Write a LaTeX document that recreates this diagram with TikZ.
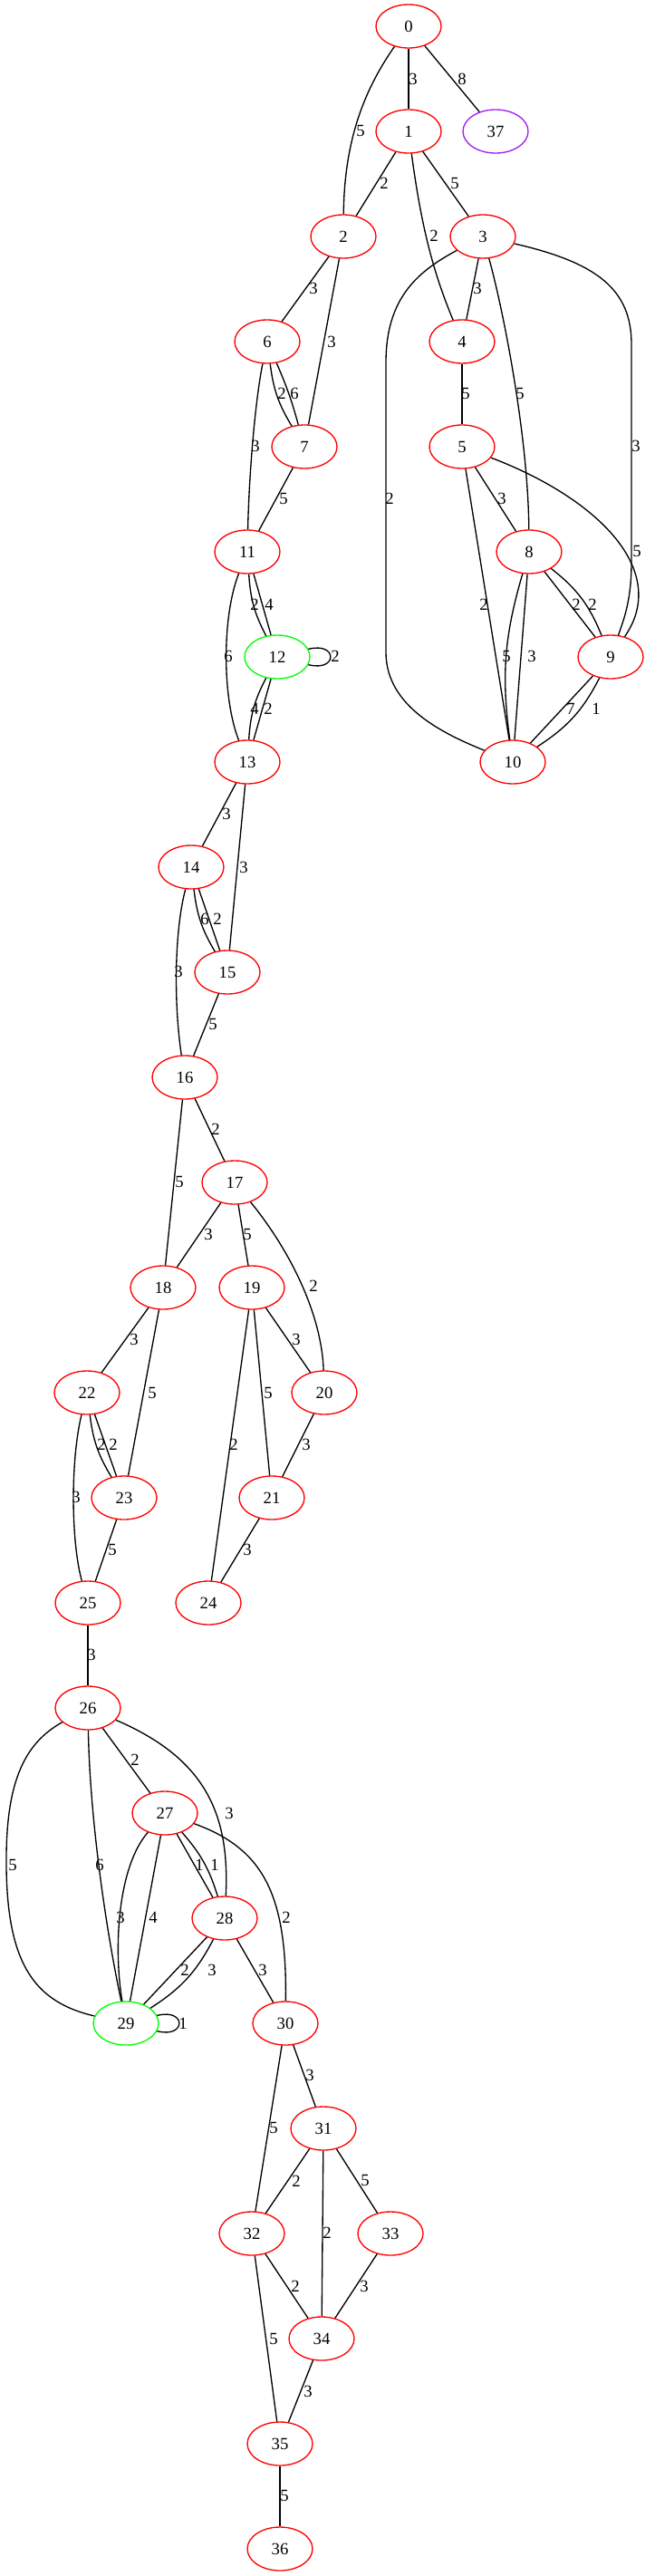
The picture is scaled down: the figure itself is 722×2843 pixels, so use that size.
\documentclass[tikz,border=0pt]{standalone}
\usepackage{fontspec}
\setmainfont{Liberation Serif}
\usetikzlibrary{shapes.geometric}
\definecolor{gvred}{RGB}{255,0,0}
\definecolor{gvgreen}{RGB}{0,255,0}
\definecolor{gvpurple}{RGB}{160,32,240}
\begin{document}
\begin{tikzpicture}[x=0.75pt,y=-0.75pt,
  v/.style={ellipse,draw=gvred,line width=1pt,minimum width=54pt,minimum height=36pt,inner sep=0pt,font=\fontsize{14}{16}\selectfont},
  lbl/.style={font=\fontsize{14}{16}\selectfont,inner sep=0pt},
  e/.style={line width=1pt}]
\useasboundingbox (0,0) rectangle (722,2843);
% nodes
\node[v] (n0) at (451,29) {0};
\node[v] (n1) at (451,145) {1};
\node[v,draw=gvpurple] (n37) at (547,145) {37};
\node[v] (n2) at (379,261) {2};
\node[v] (n3) at (533,261) {3};
\node[v] (n6) at (295,377) {6};
\node[v] (n4) at (510,377) {4};
\node[v] (n7) at (336,493) {7};
\node[v] (n5) at (510,493) {5};
\node[v] (n11) at (273,609) {11};
\node[v] (n8) at (584,609) {8};
\node[v,draw=gvgreen] (n12) at (306,725) {12};
\node[v] (n9) at (674,725) {9};
\node[v] (n13) at (273,841) {13};
\node[v] (n10) at (566,841) {10};
\node[v] (n14) at (211,957) {14};
\node[v] (n15) at (251,1073) {15};
\node[v] (n16) at (204,1189) {16};
\node[v] (n17) at (259,1305) {17};
\node[v] (n18) at (180,1421) {18};
\node[v] (n19) at (278,1421) {19};
\node[v] (n22) at (96,1537) {22};
\node[v] (n20) at (358,1537) {20};
\node[v] (n23) at (137,1653) {23};
\node[v] (n21) at (300,1653) {21};
\node[v] (n25) at (97,1769) {25};
\node[v] (n24) at (230,1769) {24};
\node[v] (n26) at (97,1885) {26};
\node[v] (n27) at (182,2001) {27};
\node[v] (n28) at (248,2117) {28};
\node[v,draw=gvgreen] (n29) at (139,2233) {29};
\node[v] (n30) at (315,2233) {30};
\node[v] (n31) at (357,2349) {31};
\node[v] (n32) at (278,2465) {32};
\node[v] (n33) at (431,2465) {33};
\node[v] (n34) at (355,2581) {34};
\node[v] (n35) at (309,2697) {35};
\node[v] (n36) at (309,2813) {36};
% edges
\draw[e] (n0) -- (n1);
\draw[e] (n0) -- (n37);
\draw[e] (n0) .. controls (405,95) and (380,150) .. (n2);
\draw[e] (n1) -- (n2);
\draw[e] (n1) -- (n3);
\draw[e] (n1) .. controls (465,250) and (478,300) .. (n4);
\draw[e] (n2) -- (n6);
\draw[e] (n2) -- (n7);
\draw[e] (n3) -- (n4);
\draw[e] (n3) .. controls (555,340) and (583,480) .. (n8);
\draw[e] (n3) .. controls (660,290) and (697,320) .. (697,380) -- (697,620) .. controls (697,660) and (690,680) .. (n9);
\draw[e] (n3) .. controls (460,300) and (426,330) .. (426,400) -- (426,720) .. controls (426,780) and (490,810) .. (n10);
\draw[e] (n4) -- (n5);
\draw[e] (n6) to[bend right=12] (n7);
\draw[e] (n6) to[bend left=4] (n7);
\draw[e] (n6) .. controls (282,440) and (275,520) .. (n11);
\draw[e] (n7) -- (n11);
\draw[e] (n5) -- (n8);
\draw[e] (n5) -- (n10);
\draw[e] (n5) .. controls (660,550) and (740,630) .. (n9);
\draw[e] (n8) -- (n9);
\draw[e] (n8) to[bend left=15] (n9);
\draw[e] (n8) to[bend right=12] (n10);
\draw[e] (n8) -- (n10);
\draw[e] (n9) -- (n10);
\draw[e] (n9) to[bend left=15] (n10);
\draw[e] (n11) to[bend right=12] (n12);
\draw[e] (n11) -- (n12);
\draw[e] (n11) .. controls (245,680) and (245,770) .. (n13);
\draw[e] (n12.14) .. controls (373,708) and (373,742) .. (n12.-14);
\draw[e] (n12) to[bend right=12] (n13);
\draw[e] (n12) -- (n13);
\draw[e] (n13) -- (n14);
\draw[e] (n13) -- (n15);
\draw[e] (n14) to[bend right=12] (n15);
\draw[e] (n14) -- (n15);
\draw[e] (n14) .. controls (192,1030) and (192,1110) .. (n16);
\draw[e] (n15) -- (n16);
\draw[e] (n16) -- (n17);
\draw[e] (n16) -- (n18);
\draw[e] (n17) -- (n18);
\draw[e] (n17) -- (n19);
\draw[e] (n17) .. controls (320,1380) and (355,1450) .. (n20);
\draw[e] (n18) -- (n22);
\draw[e] (n18) -- (n23);
\draw[e] (n19) -- (n20);
\draw[e] (n19) -- (n21);
\draw[e] (n19) -- (n24);
\draw[e] (n22) to[bend right=12] (n23);
\draw[e] (n22) -- (n23);
\draw[e] (n22) .. controls (78,1610) and (78,1700) .. (n25);
\draw[e] (n20) -- (n21);
\draw[e] (n23) -- (n25);
\draw[e] (n21) -- (n24);
\draw[e] (n25) -- (n26);
\draw[e] (n26) -- (n27);
\draw[e] (n26) .. controls (225,1940) and (254,2000) .. (n28);
\draw[e] (n26) .. controls (99,2000) and (115,2120) .. (n29);
\draw[e] (n26) .. controls (25,1925) and (6,1970) .. (7,2060) .. controls (8,2170) and (40,2210) .. (n29);
\draw[e] (n27) -- (n28);
\draw[e] (n27) to[bend left=12] (n28);
\draw[e] (n27) .. controls (130,2060) and (125,2150) .. (n29);
\draw[e] (n27) -- (n29);
\draw[e] (n27) .. controls (290,2040) and (317,2090) .. (n30);
\draw[e] (n28) -- (n29);
\draw[e] (n28) to[bend left=15] (n29);
\draw[e] (n28) -- (n30);
\draw[e] (n29.14) .. controls (206,2216) and (206,2250) .. (n29.-14);
\draw[e] (n30) -- (n31);
\draw[e] (n30) -- (n32);
\draw[e] (n31) -- (n32);
\draw[e] (n31) -- (n33);
\draw[e] (n31) -- (n34);
\draw[e] (n32) -- (n34);
\draw[e] (n33) -- (n34);
\draw[e] (n32) -- (n35);
\draw[e] (n34) -- (n35);
\draw[e] (n35) -- (n36);
% edge labels
\foreach \lx/\ly/\lt [count=\i] in {
 456/87/3, 510/87/8, 398/144/5, 424/202/2, 479/260/2, 502/202/5,
 346/318/3, 366/377/3, 527/318/3, 574/434/5, 702/492/3, 430/550/2,
 514/434/5, 311/434/2, 325/434/6, 282/492/3, 313/550/5, 554/550/3,
 534/667/2, 703/608/5, 636/667/2, 654/667/2, 559/724/5, 587/724/3,
 630/782/7, 658/782/1, 281/667/2, 297/667/4, 252/724/6, 370/724/2,
 281/782/4, 296/782/2, 250/898/3, 269/957/3, 226/1014/6, 240/1014/2,
 197/1072/3, 235/1130/5, 198/1304/5, 238/1246/2, 230/1362/3, 273/1362/5,
 346/1419/2, 148/1478/3, 168/1537/5, 327/1478/3, 296/1537/5, 258/1594/2,
 112/1594/2, 125/1594/2, 84/1652/3, 338/1594/3, 124/1710/5, 273/1710/3,
 101/1826/3, 149/1942/2, 253/2001/3, 110/2058/6, 14/2058/5, 220/2058/1,
 237/2058/1, 133/2116/3, 169/2116/4, 316/2116/2, 204/2174/2, 234/2174/3,
 290/2174/3, 202/2233/1, 342/2290/3, 302/2348/5, 327/2407/2, 361/2464/2,
 403/2406/5, 326/2523/2, 402/2523/3, 302/2581/5, 340/2639/3, 314/2754/5}
 { \node[lbl] (lab\i) at (\lx,\ly) {\lt}; }
\end{tikzpicture}
\end{document}
